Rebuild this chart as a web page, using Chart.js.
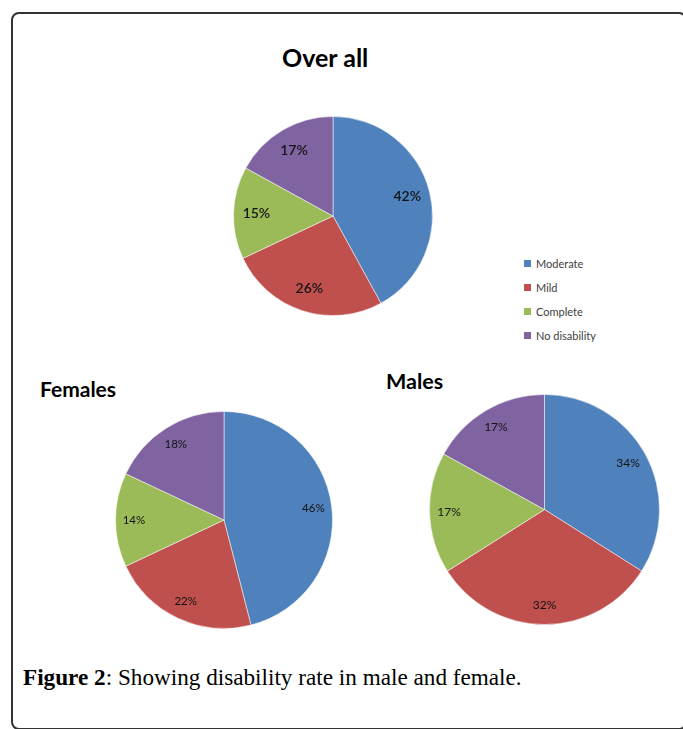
<!DOCTYPE html>
<html>
<head>
<meta charset="utf-8">
<script src="https://cdn.jsdelivr.net/npm/chart.js@4"></script>
<style>
  html, body { margin: 0; overflow: hidden; }
  body { width: 683px; height: 729px; background: #fff; position: relative; }
  .frame { position: absolute; left: 11px; top: 12px; width: 672px; height: 714px; border: 2px solid #333; border-radius: 8px; }
  .title { position: absolute; font-family: Lato, "Open Sans", sans-serif; font-weight: bold; color: #000; white-space: nowrap; line-height: 1; }
  canvas { position: absolute; }
  #legend { position: absolute; left: 524px; top: 251px; font-family: Lato, sans-serif; font-size: 11px; color: #404040; }
  #legend div { height: 24px; display: flex; align-items: center; }
  #legend span { display: inline-block; width: 7px; height: 7px; margin-right: 5px; }
  .caption { position: absolute; left: 23px; top: 664px; font-family: "Liberation Serif", serif; font-size: 23.2px; color: #000; white-space: nowrap; }
</style>
</head>
<body>
<div class="frame"></div>
<div class="title" style="left:282px; top:45px; font-size:25px;">Over all</div>
<div class="title" style="left:40px; top:378px; font-size:21px;">Females</div>
<div class="title" style="left:386px; top:371px; font-size:21.5px;">Males</div>

<canvas id="overall" width="200" height="200" style="left:233px; top:116px;"></canvas>
<canvas id="females" width="218" height="218" style="left:115px; top:411px;"></canvas>
<canvas id="males" width="231" height="231" style="left:429px; top:394px;"></canvas>

<div id="legend"></div>

<div class="caption"><b>Figure 2</b>: Showing disability rate in male and female.</div>

<script>
const categories = ["Moderate", "Mild", "Complete", "No disability"];
const overallValues = [42, 26, 15, 17];
const femaleValues = [46, 22, 14, 18];
const maleValues = [34, 32, 17, 17];
const colors = ["#4F81BD", "#C0504D", "#9BBB59", "#8064A2"];

// percentage labels inside each slice
const sliceLabels = {
  id: "sliceLabels",
  afterDatasetsDraw(chart, args, opts) {
    const ctx = chart.ctx;
    const meta = chart.getDatasetMeta(0);
    const data = chart.data.datasets[0].data;
    ctx.save();
    ctx.font = opts.font;
    ctx.fillStyle = "#141414";
    ctx.textAlign = "center";
    ctx.textBaseline = "middle";
    meta.data.forEach((arc, i) => {
      const mid = (arc.startAngle + arc.endAngle) / 2;
      const r = arc.outerRadius * opts.ratio;
      ctx.fillText(data[i] + "%", arc.x + Math.cos(mid) * r, arc.y + Math.sin(mid) * r);
    });
    ctx.restore();
  }
};

function makePie(id, values, font, ratio) {
  return new Chart(document.getElementById(id), {
    type: "pie",
    data: {
      labels: categories,
      datasets: [{
        data: values,
        backgroundColor: colors,
        borderColor: "rgba(255,255,255,0.5)",
        borderWidth: 1
      }]
    },
    options: {
      responsive: false,
      animation: false,
      layout: { padding: 0 },
      plugins: {
        legend: { display: false },
        tooltip: { enabled: false },
        sliceLabels: { font, ratio }
      }
    },
    plugins: [sliceLabels]
  });
}

makePie("overall", overallValues, "600 14px Lato", 0.77);
makePie("females", femaleValues, "11.5px Lato", 0.83);
makePie("males", maleValues, "12px Lato", 0.83);

const legend = document.getElementById("legend");
categories.forEach((c, i) => {
  const row = document.createElement("div");
  row.innerHTML = `<span style="background:${colors[i]}"></span>${c}`;
  legend.appendChild(row);
});
</script>
</body>
</html>
